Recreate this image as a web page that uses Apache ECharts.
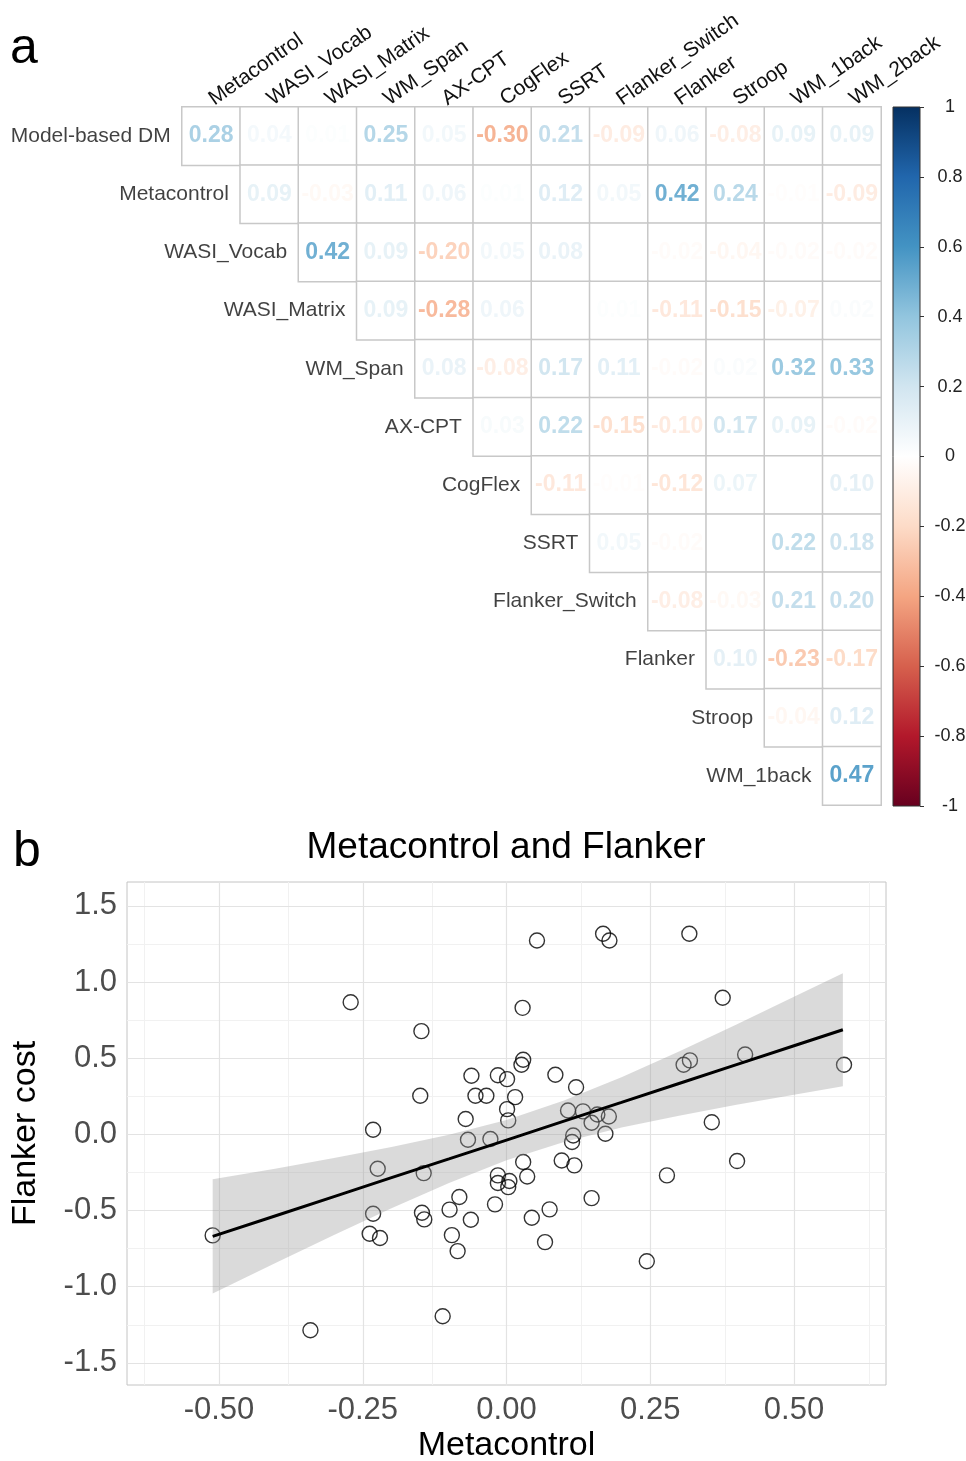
<!DOCTYPE html>
<html>
<head>
<meta charset="utf-8">
<script src="https://cdn.jsdelivr.net/npm/echarts@6/dist/echarts.min.js"></script>
<style>
  html, body { margin: 0; padding: 0; background: #fff; }
  #chart { width: 966px; height: 1461px; }
</style>
</head>
<body>
<div id="chart"></div>
<script>
// Panel a: correlation matrix (upper triangle, row i starts at column i)
const colNames = ["Metacontrol", "WASI_Vocab", "WASI_Matrix", "WM_Span", "AX-CPT", "CogFlex",
  "SSRT", "Flanker_Switch", "Flanker", "Stroop", "WM_1back", "WM_2back"];
const rowNames = ["Model-based DM", "Metacontrol", "WASI_Vocab", "WASI_Matrix", "WM_Span", "AX-CPT",
  "CogFlex", "SSRT", "Flanker_Switch", "Flanker", "Stroop", "WM_1back"];
const corrRows = [
  [0.28, 0.04, 0.01, 0.25, 0.05, -0.30, 0.21, -0.09, 0.06, -0.08, 0.09, 0.09],
  [0.09, -0.03, 0.11, 0.06, 0.01, 0.12, 0.05, 0.42, 0.24, -0.01, -0.09],
  [0.42, 0.09, -0.20, 0.05, 0.08, 0.00, -0.02, -0.04, -0.02, -0.02],
  [0.09, -0.28, 0.06, 0.00, 0.01, -0.11, -0.15, -0.07, 0.02],
  [0.08, -0.08, 0.17, 0.11, -0.02, 0.02, 0.32, 0.33],
  [0.03, 0.22, -0.15, -0.10, 0.17, 0.09, -0.02],
  [-0.11, -0.01, -0.12, 0.07, 0.00, 0.10],
  [0.05, -0.02, 0.00, 0.22, 0.18],
  [-0.08, -0.03, 0.21, 0.20],
  [0.10, -0.23, -0.17],
  [-0.04, 0.12],
  [0.47],
];
const colorbarRange = [-1, 1];
// corrplot RdBu palette, from -1 to 1
const rdbu = ["#67001F", "#B2182B", "#D6604D", "#F4A582", "#FDDBC7", "#FFFFFF",
  "#D1E5F0", "#92C5DE", "#4393C3", "#2166AC", "#053061"];

// Panel b: Metacontrol vs Flanker cost
const metacontrol = [-0.511, -0.341, -0.271, -0.238, -0.232, -0.232, -0.224, -0.220, -0.150, -0.148,
  -0.147, -0.144, -0.143, -0.111, -0.099, -0.095, -0.085, -0.082, -0.071, -0.067,
  -0.062, -0.061, -0.054, -0.035, -0.028, -0.020, -0.015, -0.015, -0.015, 0.001,
  0.001, 0.003, 0.005, 0.003, 0.015, 0.028, 0.029, 0.026, 0.029, 0.036,
  0.044, 0.053, 0.067, 0.075, 0.085, 0.096, 0.107, 0.116, 0.114, 0.118,
  0.121, 0.133, 0.148, 0.148, 0.158, 0.168, 0.172, 0.178, 0.179, 0.244,
  0.279, 0.308, 0.318, 0.319, 0.357, 0.376, 0.401, 0.415, 0.587];
const flankerCost = [-0.663, -1.286, 0.868, -0.652, 0.031, -0.521, -0.225, -0.680, 0.254, 0.678,
  -0.514, -0.254, -0.558, -1.194, -0.494, -0.661, -0.766, -0.411, 0.101, -0.035,
  -0.560, 0.385, 0.254, 0.254, -0.030, -0.459, 0.388, -0.269, -0.319, 0.363,
  0.166, 0.092, -0.306, -0.346, 0.245, 0.831, 0.490, 0.457, -0.181, -0.276,
  -0.547, 1.273, -0.707, -0.492, 0.392, -0.171, 0.157, -0.007, -0.050, -0.203,
  0.310, 0.151, 0.077, -0.418, 0.131, 1.317, 0.004, 0.118, 1.273, -0.833,
  -0.269, 0.457, 1.317, 0.486, 0.080, 0.897, -0.175, 0.525, 0.457];
// fitted line and its confidence band
const fitX = [-0.511, -0.4, -0.3, -0.2, -0.1, 0, 0.1, 0.2, 0.3, 0.4, 0.5, 0.585];
const fitY = [-0.669, -0.532, -0.408, -0.284, -0.161, -0.037, 0.087, 0.210, 0.334, 0.458, 0.582, 0.687];
const bandLower = [-1.044, -0.841, -0.661, -0.485, -0.319, -0.169, -0.049, 0.045, 0.123, 0.194, 0.261, 0.316];
const bandUpper = [-0.294, -0.223, -0.155, -0.083, -0.003, 0.095, 0.223, 0.375, 0.545, 0.722, 0.903, 1.058];
const xMajor = [-0.5, -0.25, 0, 0.25, 0.5];
const xMinor = [-0.625, -0.375, -0.125, 0.125, 0.375, 0.625];
const yMajor = [-1.5, -1, -0.5, 0, 0.5, 1, 1.5];
const yMinor = [-1.25, -0.75, -0.25, 0.25, 0.75, 1.25];

const FONT = "Liberation Sans, Arial, sans-serif";

function hexToRgb(h) {
  return [parseInt(h.slice(1, 3), 16), parseInt(h.slice(3, 5), 16), parseInt(h.slice(5, 7), 16)];
}
// colour of a correlation value on the RdBu ramp (text reads a touch darker than the bar)
function corrColor(v) {
  const s = Math.max(-1, Math.min(1, v * 1.15));
  const pos = (s + 1) / 2 * (rdbu.length - 1);
  const i = Math.min(Math.floor(pos), rdbu.length - 2);
  const t = pos - i;
  const a = hexToRgb(rdbu[i]), b = hexToRgb(rdbu[i + 1]);
  const c = a.map((x, k) => Math.round(x + (b[k] - x) * t));
  return `rgb(${c[0]},${c[1]},${c[2]})`;
}

const heatData = [];
corrRows.forEach((vals, r) => {
  vals.forEach((v, k) => {
    heatData.push({ value: [r + k, r, v], label: { color: corrColor(v) } });
  });
});

const major = { color: "#e3e3e3", width: 1.2, type: "solid" };
const minor = { color: "#f1f1f1", width: 1, type: "solid" };
const gridLines = []
  .concat(xMinor.map((v) => ({ xAxis: v, lineStyle: minor })))
  .concat(yMinor.map((v) => ({ yAxis: v, lineStyle: minor })))
  .concat(xMajor.map((v) => ({ xAxis: v, lineStyle: major })))
  .concat(yMajor.map((v) => ({ yAxis: v, lineStyle: major })));

const chart = echarts.init(document.getElementById("chart"));

chart.setOption({
  animation: false,
  backgroundColor: "#fff",
  textStyle: { fontFamily: FONT },
  graphic: [
    { type: "text", x: 10, y: 24, style: { text: "a", font: "50px " + FONT, fill: "#000" } },
    { type: "text", x: 13, y: 827, style: { text: "b", font: "50px " + FONT, fill: "#000" } },
    {
      type: "text", x: 506, y: 848,
      style: { text: "Metacontrol and Flanker", font: "37px " + FONT, fill: "#000", align: "center", verticalAlign: "middle" },
    },
  ],
  grid: [
    { left: 182, top: 107, width: 699, height: 698, outerBoundsMode: "none" },
    { left: 127, top: 882, width: 759, height: 503, show: true, borderColor: "#c4c4c4", borderWidth: 1, outerBoundsMode: "none" },
    { left: 893, top: 107, width: 27, height: 699, outerBoundsMode: "none" },
  ],
  xAxis: [
    {
      gridIndex: 0, type: "category", data: colNames, position: "top",
      axisLine: { show: false }, axisTick: { show: false }, splitLine: { show: false },
      axisLabel: { interval: 0, rotate: -35, margin: 6, fontSize: 21, color: "#111", fontFamily: FONT },
    },
    {
      gridIndex: 1, type: "value", min: -0.66, max: 0.66,
      axisLine: { show: false }, splitLine: { show: false },
      axisTick: { customValues: xMajor, length: 5, lineStyle: { color: "#999" } },
      axisLabel: {
        customValues: xMajor, margin: 10, fontSize: 31, color: "#4d4d4d", fontFamily: FONT,
        formatter: (v) => v.toFixed(2),
      },
      name: "Metacontrol", nameLocation: "middle", nameGap: 44,
      nameTextStyle: { fontSize: 34, color: "#000", fontFamily: FONT },
    },
    { gridIndex: 2, type: "category", data: ["cb"], show: false },
  ],
  yAxis: [
    { gridIndex: 0, type: "category", data: rowNames, inverse: true, show: false },
    {
      gridIndex: 1, type: "value", min: -1.645, max: 1.657,
      axisLine: { show: false }, splitLine: { show: false },
      axisTick: { customValues: yMajor, length: 5, lineStyle: { color: "#999" } },
      axisLabel: {
        customValues: yMajor, margin: 10, fontSize: 31, color: "#4d4d4d", fontFamily: FONT,
        formatter: (v) => v.toFixed(1),
      },
      name: "Flanker cost", nameLocation: "middle", nameGap: 84,
      nameTextStyle: { fontSize: 34, color: "#000", fontFamily: FONT },
    },
    {
      gridIndex: 2, type: "value", min: -1, max: 1, interval: 0.2, position: "right",
      axisLine: { show: false }, splitLine: { show: false },
      axisTick: { show: true, length: 4, lineStyle: { color: "#333" } },
      axisLabel: {
        margin: 30, align: "center", fontSize: 18, color: "#222", fontFamily: FONT,
        formatter: (v) => String(+v.toFixed(1)),
      },
    },
  ],
  series: [
    {
      type: "heatmap", xAxisIndex: 0, yAxisIndex: 0, data: heatData,
      itemStyle: { color: "#fff", borderColor: "#c8c8c8", borderWidth: 1.5 },
      label: {
        show: true, fontSize: 23, fontWeight: "bold", fontFamily: FONT,
        formatter: (p) => p.value[2].toFixed(2),
      },
      emphasis: { disabled: true },
    },
    {
      // row names sit just left of each row's first cell
      type: "scatter", xAxisIndex: 0, yAxisIndex: 0,
      data: rowNames.map((n, i) => [i, i]),
      symbolSize: 1, itemStyle: { color: "rgba(0,0,0,0)" },
      label: {
        show: true, position: "left", distance: 40, fontSize: 21, color: "#111", fontFamily: FONT,
        formatter: (p) => rowNames[p.dataIndex],
      },
      silent: true,
    },
    {
      // colour bar
      type: "custom", xAxisIndex: 2, yAxisIndex: 2,
      data: [[0, colorbarRange[0], colorbarRange[1]]],
      renderItem: (params, api) => {
        const top = api.coord([api.value(0), api.value(2)]);
        const bot = api.coord([api.value(0), api.value(1)]);
        const w = api.size([1, 0])[0];
        const stops = rdbu.slice().reverse().map((c, i) => ({ offset: i / (rdbu.length - 1), color: c }));
        return {
          type: "rect",
          shape: { x: top[0] - w / 2, y: top[1], width: w, height: bot[1] - top[1] },
          style: { fill: new echarts.graphic.LinearGradient(0, 0, 0, 1, stops), stroke: "#333", lineWidth: 1 },
        };
      },
      silent: true,
    },
    {
      // panel grid lines
      type: "line", xAxisIndex: 1, yAxisIndex: 1, data: [], z: 1,
      markLine: { z: 1, silent: true, symbol: "none", label: { show: false }, animation: false, data: gridLines },
    },
    {
      type: "scatter", xAxisIndex: 1, yAxisIndex: 1, z: 2,
      data: metacontrol.map((x, i) => [x, flankerCost[i]]),
      symbol: "circle", symbolSize: 15,
      itemStyle: { color: "rgba(0,0,0,0)", borderColor: "#000", borderWidth: 1.4 },
    },
    {
      // confidence band
      type: "custom", xAxisIndex: 1, yAxisIndex: 1, z: 3, silent: true,
      data: fitX.map((x, i) => [x, bandLower[i], bandUpper[i]]),
      renderItem: (params, api) => {
        if (params.dataIndex !== 0) return null;
        const pts = [];
        fitX.forEach((x, i) => pts.push(api.coord([x, bandUpper[i]])));
        for (let i = fitX.length - 1; i >= 0; i--) pts.push(api.coord([fitX[i], bandLower[i]]));
        return { type: "polygon", shape: { points: pts }, style: { fill: "rgba(153,153,153,0.36)" } };
      },
    },
    {
      type: "line", xAxisIndex: 1, yAxisIndex: 1, z: 4,
      data: fitX.map((x, i) => [x, fitY[i]]),
      symbol: "none", lineStyle: { color: "#000", width: 3 }, silent: true,
    },
  ],
});
</script>
</body>
</html>
